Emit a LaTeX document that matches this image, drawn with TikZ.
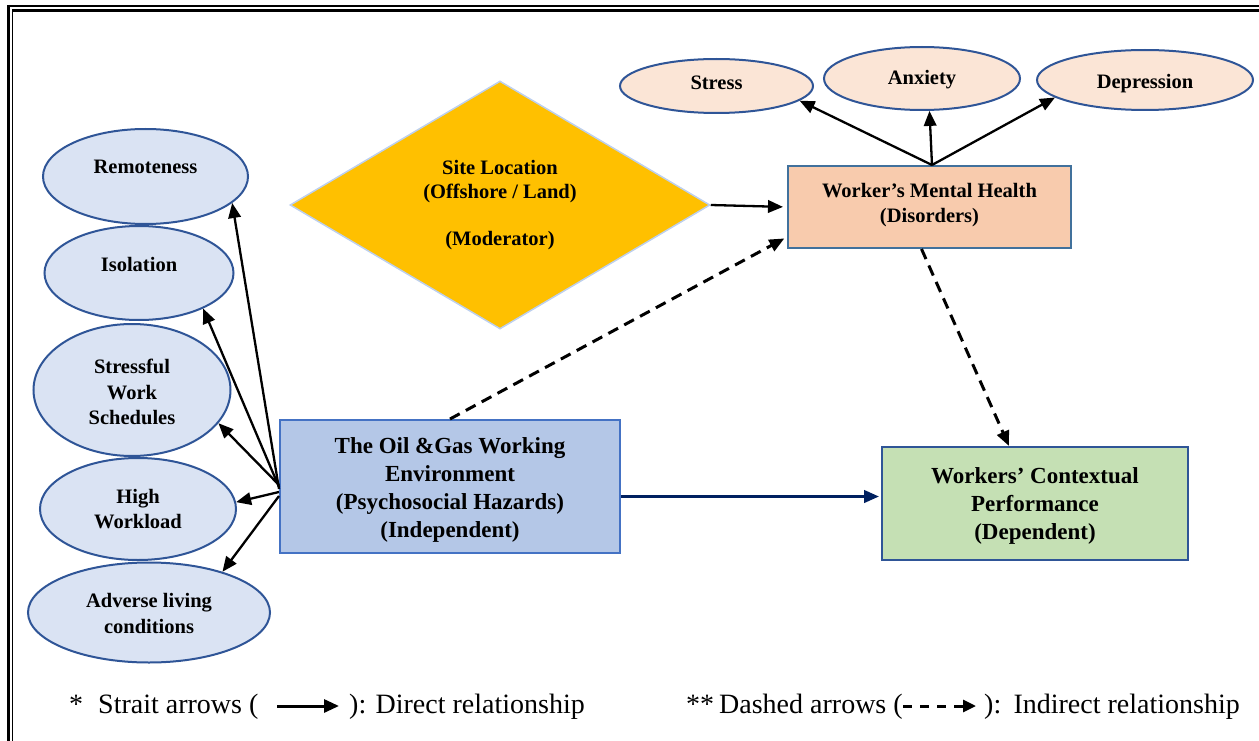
\documentclass[tikz,border=0pt]{standalone}
\usepackage{fontspec}
\setmainfont{Liberation Serif}
\usetikzlibrary{shapes.geometric,arrows.meta,calc}
\definecolor{ellfill}{HTML}{DAE3F3}
\definecolor{elldraw}{HTML}{2F5597}
\definecolor{pinkfill}{HTML}{FBE5D6}
\definecolor{oilfill}{HTML}{B4C7E7}
\definecolor{oildraw}{HTML}{4472C4}
\definecolor{mhfill}{HTML}{F8CBAD}
\definecolor{mhdraw}{HTML}{41719C}
\definecolor{wkfill}{HTML}{C5E0B4}
\definecolor{wkdraw}{HTML}{2F5597}
\definecolor{gold}{HTML}{FFC000}
\definecolor{diaedge}{HTML}{BDD0EE}
\definecolor{navy}{HTML}{002060}
\begin{document}
\begin{tikzpicture}[x=1pt,y=-1pt,
  ellnode/.style={ellipse,draw=elldraw,line width=2pt,fill=ellfill,inner sep=0pt,align=center,
    font=\fontsize{20.5}{25.5}\selectfont\bfseries},
  pellnode/.style={ellnode,fill=pinkfill},
  boxnode/.style={rectangle,draw=oildraw,line width=2pt,inner sep=0pt,align=center},
  sarrow/.style={line width=2.3pt,-{Triangle[length=15pt,width=12.5pt]}},
  darrow/.style={line width=3pt,dash pattern=on 11pt off 7pt,-{Triangle[length=15pt,width=12.5pt]}},
  legtxt/.style={anchor=base west,inner sep=0pt,font=\fontsize{28}{32}\selectfont}
]
\useasboundingbox (0,0) rectangle (1259,741);
\clip (0,0) rectangle (1259,741);

% frame (double border)
\draw[line width=3pt] (8.5,5) -- (8.5,745);
\draw[line width=2pt] (7,6) -- (1265,6);
\draw[line width=1.5pt] (12.5,9.5) -- (12.5,745);
\draw[line width=2.5pt] (11.75,10.5) -- (1265,10.5);

% left ellipses
\node[ellnode, minimum width=205pt, minimum height=95pt, text height=15pt, text depth=20pt] (rem) at (145.5,176.5) {Remoteness};
\node[ellnode, minimum width=189pt, minimum height=94pt, text height=15pt, text depth=18pt] (iso) at (139,273) {Isolation};
\node[ellnode, minimum width=197pt, minimum height=132pt] (sws) at (132,390) {\rule{0pt}{18.3pt}Stressful\\Work\\Schedules};
\node[ellnode, minimum width=196pt, minimum height=102pt] (hw) at (138,509) {High\\Workload};
\node[ellnode, minimum width=242pt, minimum height=100pt] (alc) at (149,612.5) {\rule{0pt}{15.8pt}Adverse living\\conditions};

% top ellipses
\node[pellnode, minimum width=193pt, minimum height=54pt, text height=15pt, text depth=7pt] (str) at (716.5,86) {Stress};
\node[pellnode, minimum width=196pt, minimum height=63pt, text height=15pt, text depth=3.6pt] (anx) at (922,78.5) {Anxiety};
\node[pellnode, minimum width=216pt, minimum height=60pt, text height=19pt, text depth=2pt] (dep) at (1145,80) {Depression};

% moderator diamond
\node[diamond, fill=gold, draw=diaedge, line width=1.5pt, minimum width=420pt, minimum height=248pt,
  inner sep=0pt, align=center, font=\fontsize{20.5}{23.7}\selectfont\bfseries] (site) at (500,205)
  {Site Location\\(Offshore / Land)\\[23.7pt](Moderator)};

% boxes
\node[boxnode, fill=oilfill, minimum width=340pt, minimum height=133pt,
  font=\fontsize{23}{28}\selectfont\bfseries] (oil) at (450,486.5)
  {\rule{0pt}{23.6pt}The Oil \&Gas Working\\Environment\\(Psychosocial Hazards)\\(Independent)};
\node[boxnode, fill=mhfill, draw=mhdraw, minimum width=283pt, minimum height=82pt,
  font=\fontsize{20.5}{25}\selectfont\bfseries] (mh) at (929.5,207)
  {Worker’s Mental Health\\(Disorders)\rule[-8.7pt]{0pt}{8.7pt}};
\node[boxnode, fill=wkfill, draw=wkdraw, minimum width=306pt, minimum height=113pt,
  font=\fontsize{23}{28}\selectfont\bfseries] (wk) at (1035,503.5)
  {\rule{0pt}{21.6pt}Workers’ Contextual\\Performance\\(Dependent)};

% arrows from the working environment to the hazards
\draw[sarrow] ($(oil.west)+(0,2.5)$) -- (rem.-17.4);
\draw[sarrow] ($(oil.west)+(0,0.5)$) -- (iso.-29.3);
\draw[sarrow] ($(oil.west)+(0,-1.5)$) -- (sws.-21.3);
\draw[sarrow] ($(oil.west)+(0,5.5)$) -- (hw.4.7);
\draw[sarrow] ($(oil.west)+(0,9.5)$) -- (alc.29.2);

% arrows from mental health to disorders
\coordinate (mhtop) at ($(mh.north)+(2.5,0)$);
\draw[sarrow] (mhtop) -- (str.-10.2);
\draw[sarrow] (mhtop) -- (anx.-77.5);
\draw[sarrow] (mhtop) -- (dep.-169);

% moderator arrow
\draw[sarrow, shorten >=4pt] (site.east) -- (mh.west);

% indirect (dashed) arrows
\draw[darrow, shorten >=3pt] (oil.north) -- ($(mh.west)+(0,30)$);
\draw[darrow] ($(mh.south)+(-8,0)$) -- ($(wk.north)+(-26,0)$);

% direct arrow to performance
\coordinate (oe) at ($(oil.east)+(0,10)$);
\draw[line width=2.8pt, draw=navy, fill=navy, -{Triangle[length=15pt,width=12.5pt]}, shorten >=2pt] (oe) -- (oe -| wk.west);

% legend
\node[legtxt] (l1) at (69,713) {*};
\node[legtxt] (l2) at (98,713) {Strait arrows (};
\coordinate (a1) at (277,706);
\coordinate (a2) at (339,706);
\draw[line width=3pt,-{Triangle[length=15pt,width=13pt]}] (a1) -- (a2);
\node[legtxt] (l3) at (349,713) {):};
\node[legtxt, anchor=base east] (l4) at (585,713) {Direct relationship};
\node[legtxt] (l5) at (686,713) {**};
\node[legtxt] (l6) at (719,713) {Dashed arrows (};
\coordinate (b1) at (903,706);
\coordinate (b2) at (976,706);
\draw[line width=3pt,dash pattern=on 9pt off 8pt,-{Triangle[length=13pt,width=12pt]}] (b1) -- (b2);
\node[legtxt] (l7) at (984,713) {):};
\node[legtxt, anchor=base east] (l8) at (1240,713) {Indirect relationship};
\end{tikzpicture}
\end{document}
